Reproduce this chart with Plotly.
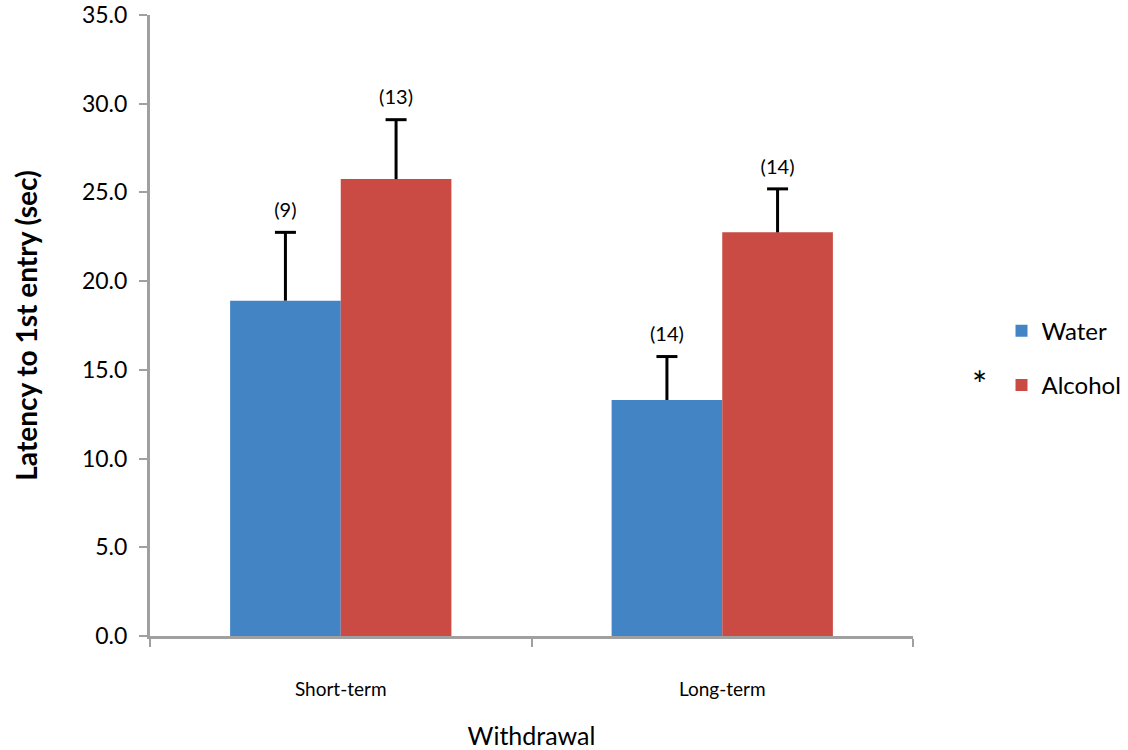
import plotly.graph_objects as go

categories = ["Short-term", "Long-term"]
water = [18.9, 13.3]
water_err = [3.85, 2.45]
alcohol = [25.75, 22.75]
alcohol_err = [3.35, 2.45]
water_n = ["(9)", "(14)"]
alcohol_n = ["(13)", "(14)"]
y_ticks = [0, 5, 10, 15, 20, 25, 30, 35]

FONT = "Lato, 'Open Sans', sans-serif"
BLUE = "#4384c4"
RED = "#c94b43"
AXIS = "#a0a0a0"

fig = go.Figure()
series = [
    ("Water", water, water_err, water_n, BLUE, "w"),
    ("Alcohol", alcohol, alcohol_err, alcohol_n, RED, "a"),
]
for name, vals, errs, ns, color, grp in series:
    fig.add_trace(go.Bar(
        name=name, x=categories, y=vals, offsetgroup=grp, legendgroup=grp,
        marker=dict(color=color, line=dict(width=0)),
    ))
for name, vals, errs, ns, color, grp in series:
    tops = [v + e for v, e in zip(vals, errs)]
    fig.add_trace(go.Scatter(
        x=categories, y=tops, offsetgroup=grp, legendgroup=grp, showlegend=False,
        mode="markers+text", text=ns, textposition="top center",
        textfont=dict(family=FONT, size=20, color="black"),
        marker=dict(symbol="line-ew", size=15, color="black", line=dict(width=3, color="black")),
        error_y=dict(type="data", symmetric=False, array=[0] * len(errs), arrayminus=errs,
                     color="black", thickness=3, width=0),
        hoverinfo="skip", cliponaxis=False,
    ))

fig.add_annotation(xref="paper", yref="paper", x=1.0995, y=0.405, yanchor="middle",
                   text="*", showarrow=False, font=dict(family=FONT, size=36, color="black"))

fig.update_layout(
    width=1128, height=750,
    margin=dict(l=150, r=215, t=15, b=114, autoexpand=False),
    paper_bgcolor="white", plot_bgcolor="white",
    barmode="group", bargap=0.42, bargroupgap=0,
    scattermode="group", scattergap=0.42,
    font=dict(family=FONT, color="black"),
    showlegend=True,
    legend=dict(x=1.116, y=0.527, xanchor="left", yanchor="top",
                font=dict(family=FONT, size=24, color="black"),
                traceorder="grouped", tracegroupgap=20, bgcolor="rgba(0,0,0,0)"),
    xaxis=dict(
        showline=True, linecolor=AXIS, linewidth=3, automargin=False,
        ticks="outside", tickson="boundaries", ticklen=8, tickwidth=2, tickcolor=AXIS,
        tickfont=dict(family=FONT, size=19), ticklabelstandoff=34,
        title=dict(text="Withdrawal", font=dict(family=FONT, size=25), standoff=34),
        showgrid=False, zeroline=False,
    ),
    yaxis=dict(
        range=[0, 35], tickvals=y_ticks, tickformat=".1f", automargin=False,
        showline=True, linecolor=AXIS, linewidth=3,
        ticks="outside", ticklen=8, tickwidth=2, tickcolor=AXIS,
        tickfont=dict(family=FONT, size=23), ticklabelstandoff=7,
        title=dict(text="<b>Latency to 1st entry (sec)</b>", font=dict(family=FONT, size=28), standoff=37),
        showgrid=False, zeroline=False,
    ),
)

fig.write_html("out.html", config={"displayModeBar": False},
               post_script="document.body.style.margin='0';")
